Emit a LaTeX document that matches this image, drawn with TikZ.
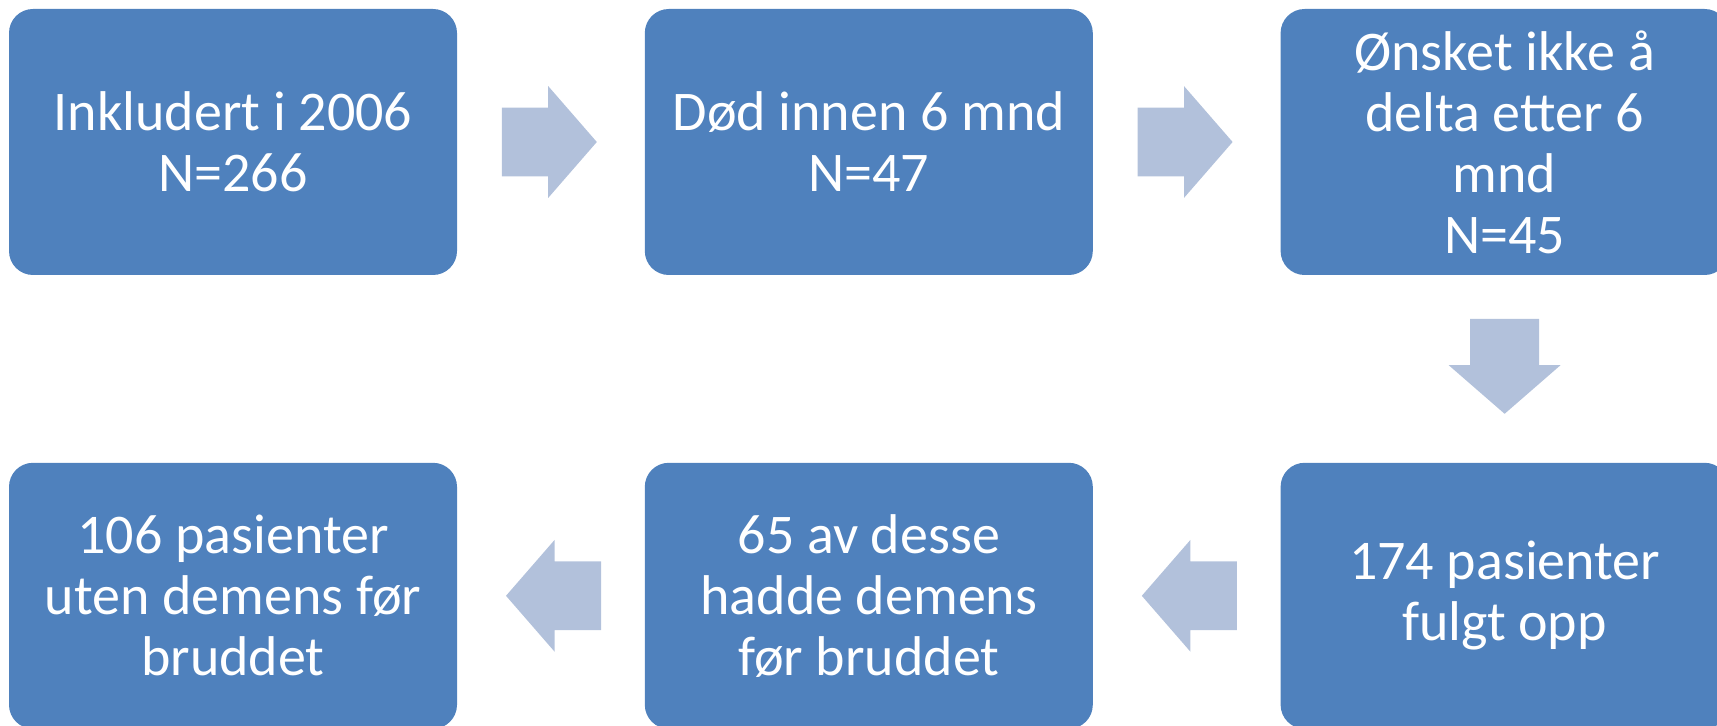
\documentclass[tikz,border=0pt]{standalone}
\usepackage{fontspec}
\setmainfont{Carlito}
\usetikzlibrary{positioning,shapes.arrows,calc}
\definecolor{boxblue}{HTML}{4F81BD}
\definecolor{arrowblue}{HTML}{B2C1DB}

\begin{document}
\begin{tikzpicture}[
node distance=93.5pt,
stepbox/.style={fill=boxblue,rounded corners=12pt,minimum width=224pt,minimum height=133pt,
  align=center,text=white,font=\fontsize{28}{30.5}\selectfont},
blockarrow/.style={single arrow,fill=arrowblue,inner xsep=0pt,inner ysep=17pt,anchor=tail,
  minimum height=47.5pt,single arrow head extend=10.75pt,single arrow tip angle=98}]
\useasboundingbox (0,0) rectangle (858.5pt,-363pt);
\node[stepbox] (inkl) at (116.5pt,-71pt) {Inkludert i 2006\\N=266};
\node[stepbox] (dod) [right=of inkl] {Død innen 6 mnd\\N=47};
\node[stepbox] (onsk) [right=of dod] {Ønsket ikke å\\delta etter 6\\mnd\\N=45};
\node[stepbox] (fulgt) [below=of onsk] {174 pasienter\\fulgt opp};
\node[stepbox] (demens) [left=of fulgt] {65 av desse\\hadde demens\\før bruddet};
\node[stepbox] (uten) [left=of demens] {106 pasienter\\uten demens før\\bruddet};
% arrows between the boxes
\node[blockarrow] (a1) at ([xshift=22pt]inkl.east) {};
\node[blockarrow] (a2) at ([xshift=22pt]dod.east) {};
\node[blockarrow,rotate=-90] (a3) at ([yshift=-21.5pt]onsk.south) {};
\node[blockarrow,rotate=180] (a4) at ([xshift=-21.5pt]fulgt.west) {};
\node[blockarrow,rotate=180] (a5) at ([xshift=-21.5pt]demens.west) {};
\end{tikzpicture}
\end{document}
